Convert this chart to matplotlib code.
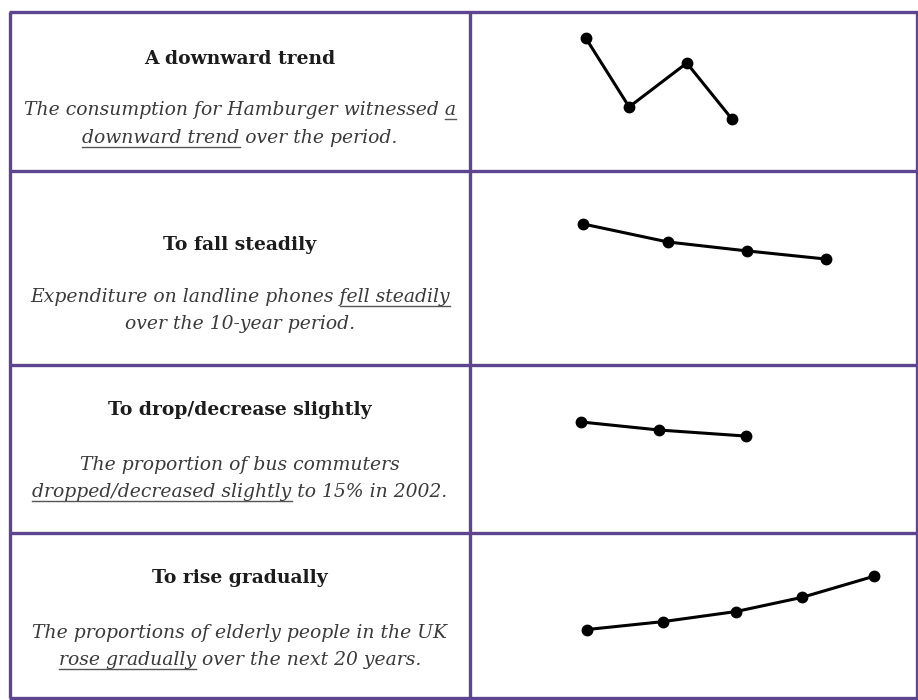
import matplotlib
matplotlib.use("Agg")
import matplotlib.pyplot as plt

# text of each row: title, then the example sentence split in lines,
# each line a list of (piece, underlined)
titles = ["A downward trend", "To fall steadily", "To drop/decrease slightly", "To rise gradually"]
examples = [
    [[("The consumption for Hamburger witnessed ", False), ("a", True)],
     [("downward trend", True), (" over the period.", False)]],
    [[("Expenditure on landline phones ", False), ("fell steadily", True)],
     [("over the 10-year period.", False)]],
    [[("The proportion of bus commuters", False)],
     [("dropped/decreased slightly", True), (" to 15% in 2002.", False)]],
    [[("The proportions of elderly people in the UK", False)],
     [("rose gradually", True), (" over the next 20 years.", False)]],
]

# sketch lines, x = position across the cell (%), y = level in the cell (%)
trend_x = [25.9, 35.6, 48.5, 58.6]
trend_y = [83.6, 40.3, 67.9, 32.7]
steady_x = [25.3, 44.3, 62.0, 79.7]
steady_y = [72.7, 63.4, 58.8, 54.6]
slight_x = [24.8, 42.3, 61.7]
slight_y = [66.1, 61.3, 57.7]
rise_x = [26.2, 43.2, 59.5, 74.3, 90.4]
rise_y = [41.5, 46.3, 52.4, 61.0, 73.8]
sketches = [(trend_x, trend_y), (steady_x, steady_y), (slight_x, slight_y), (rise_x, rise_y)]

W, H = 918, 700
LEFT, MID, RIGHT = 10, 470, 917
ROWS = [12, 171, 365, 533, 698]
BORDER = "#5e4590"
SERIF = ["DejaVu Serif"]

title_base = [64, 250, 415, 583]
line_base = [[115, 143], [302, 329], [470, 497], [638, 665]]

fig = plt.figure(figsize=(W / 100, H / 100), dpi=100)
fig.patch.set_facecolor("white")
bg = fig.add_axes([0, 0, 1, 1])
bg.set_xlim(0, W)
bg.set_ylim(H, 0)
bg.axis("off")

renderer = fig.canvas.get_renderer()


def text_width(s, **kw):
    t = bg.text(0, 0, s, **kw)
    w = t.get_window_extent(renderer).width
    t.remove()
    return w


cx = (LEFT + MID) / 2
title_kw = dict(family=SERIF, fontweight="bold", fontsize=13.5, color="#1c1c1c")
ex_kw = dict(family=SERIF, style="italic", fontsize=13.5, color="#3a3a3a")

for i in range(4):
    bg.text(cx, title_base[i], titles[i], ha="center", va="baseline", **title_kw)
    for j, pieces in enumerate(examples[i]):
        full = "".join(p for p, _ in pieces)
        yb = line_base[i][j]
        bg.text(cx, yb, full, ha="center", va="baseline", **ex_kw)
        total = text_width(full, **ex_kw)
        x0 = cx - total / 2
        prefix = ""
        for piece, under in pieces:
            prefix += piece
            if under:
                x_end = x0 + text_width(prefix, **ex_kw)
                x_start = x_end - text_width(piece, **ex_kw)
                bg.plot([x_start, x_end], [yb + 3.5, yb + 3.5], color="#555555", lw=1.0)

# table borders
for y in ROWS:
    bg.plot([LEFT - 1.5, RIGHT + 1.5], [y, y], color=BORDER, lw=2.4, solid_capstyle="butt")
for x in [LEFT, MID, RIGHT]:
    bg.plot([x, x], [ROWS[0], ROWS[-1]], color=BORDER, lw=2.4, solid_capstyle="butt")

# sketch in each right-hand cell
for i, (xs, ys) in enumerate(sketches):
    top, bottom = ROWS[i], ROWS[i + 1]
    ax = fig.add_axes([MID / W, 1 - bottom / H, (RIGHT - MID) / W, (bottom - top) / H])
    ax.set_xlim(0, 100)
    ax.set_ylim(0, 100)
    ax.axis("off")
    ax.plot(xs, ys, color="black", lw=2.2, marker="o", markersize=7.5)

fig.savefig("out.png", dpi=100, facecolor="white")
